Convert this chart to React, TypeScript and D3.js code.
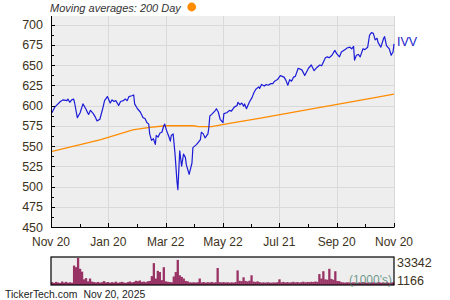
import React, { useEffect } from "react";
import * as d3 from "d3";

// ---- Data ----
const priceSeries: [string, number][] = [
  ["2024-11-21", 591], ["2024-11-24", 598], ["2024-11-30", 605], ["2024-12-03", 607],
  ["2024-12-07", 606], ["2024-12-08", 608], ["2024-12-10", 604], ["2024-12-12", 607],
  ["2024-12-14", 608], ["2024-12-15", 604], ["2024-12-18", 585], ["2024-12-21", 591],
  ["2024-12-24", 602], ["2024-12-27", 596], ["2024-12-29", 591], ["2024-12-30", 589],
  ["2025-01-01", 594], ["2025-01-04", 590], ["2025-01-06", 586], ["2025-01-08", 581],
  ["2025-01-11", 583], ["2025-01-14", 596], ["2025-01-16", 606], ["2025-01-19", 611],
  ["2025-01-22", 603], ["2025-01-24", 607], ["2025-01-26", 605], ["2025-01-28", 606],
  ["2025-01-31", 600], ["2025-02-02", 605], ["2025-02-05", 606], ["2025-02-07", 608],
  ["2025-02-09", 606], ["2025-02-11", 611], ["2025-02-14", 612], ["2025-02-16", 613],
  ["2025-02-17", 602], ["2025-02-20", 596], ["2025-02-23", 592], ["2025-02-26", 585],
  ["2025-02-28", 584], ["2025-03-02", 579], ["2025-03-04", 577], ["2025-03-05", 565],
  ["2025-03-07", 557], ["2025-03-09", 559], ["2025-03-11", 552], ["2025-03-12", 563],
  ["2025-03-14", 561], ["2025-03-16", 566], ["2025-03-18", 567], ["2025-03-20", 575],
  ["2025-03-21", 577], ["2025-03-23", 569], ["2025-03-25", 563], ["2025-03-27", 556],
  ["2025-03-28", 563], ["2025-03-30", 565], ["2025-04-01", 540], ["2025-04-03", 507],
  ["2025-04-04", 496], ["2025-04-06", 544], ["2025-04-08", 525], ["2025-04-10", 540],
  ["2025-04-12", 536], ["2025-04-13", 527], ["2025-04-16", 515], ["2025-04-19", 529],
  ["2025-04-20", 548], ["2025-04-24", 552], ["2025-04-28", 558], ["2025-04-29", 567],
  ["2025-05-01", 565], ["2025-05-03", 560], ["2025-05-06", 565], ["2025-05-07", 573],
  ["2025-05-08", 587], ["2025-05-10", 589], ["2025-05-14", 594], ["2025-05-15", 596],
  ["2025-05-17", 592], ["2025-05-19", 583], ["2025-05-22", 579], ["2025-05-23", 590],
  ["2025-05-26", 591], ["2025-05-29", 594], ["2025-05-31", 593], ["2025-06-03", 598],
  ["2025-06-06", 600], ["2025-06-07", 604], ["2025-06-09", 601], ["2025-06-11", 603],
  ["2025-06-13", 599], ["2025-06-14", 602], ["2025-06-16", 596], ["2025-06-19", 604],
  ["2025-06-22", 610], ["2025-06-24", 616], ["2025-06-26", 620], ["2025-06-29", 623],
  ["2025-06-30", 621], ["2025-07-02", 626], ["2025-07-05", 624], ["2025-07-07", 626],
  ["2025-07-09", 625], ["2025-07-12", 627], ["2025-07-14", 627], ["2025-07-16", 630],
  ["2025-07-19", 632], ["2025-07-22", 637], ["2025-07-24", 636], ["2025-07-26", 635],
  ["2025-07-28", 631], ["2025-07-30", 625], ["2025-08-01", 632], ["2025-08-03", 630],
  ["2025-08-05", 635], ["2025-08-07", 636], ["2025-08-10", 646], ["2025-08-14", 644],
  ["2025-08-17", 637], ["2025-08-21", 646], ["2025-08-24", 650], ["2025-08-27", 643],
  ["2025-08-30", 647], ["2025-09-02", 650], ["2025-09-04", 649], ["2025-09-08", 659],
  ["2025-09-10", 660], ["2025-09-12", 659], ["2025-09-15", 662], ["2025-09-18", 668],
  ["2025-09-20", 664], ["2025-09-23", 660], ["2025-09-25", 666], ["2025-09-29", 669],
  ["2025-10-01", 671], ["2025-10-04", 672], ["2025-10-06", 670], ["2025-10-08", 673],
  ["2025-10-09", 656], ["2025-10-11", 662], ["2025-10-13", 663], ["2025-10-15", 660],
  ["2025-10-18", 670], ["2025-10-20", 669], ["2025-10-23", 672], ["2025-10-25", 687],
  ["2025-10-27", 690], ["2025-10-29", 689], ["2025-10-31", 681], ["2025-11-02", 683],
  ["2025-11-03", 678], ["2025-11-06", 672], ["2025-11-09", 683], ["2025-11-10", 685],
  ["2025-11-12", 674], ["2025-11-15", 670], ["2025-11-17", 662], ["2025-11-19", 666],
  ["2025-11-20", 676],
];

const ma200Series: [string, number][] = [
  ["2024-11-20", 543], ["2024-12-20", 551.5], ["2025-01-12", 558], ["2025-02-15", 570],
  ["2025-03-05", 573], ["2025-03-22", 575], ["2025-04-20", 575], ["2025-04-26", 574],
  ["2025-05-10", 574], ["2025-05-20", 576], ["2025-06-01", 578.5], ["2025-07-01", 584.5],
  ["2025-08-01", 591], ["2025-09-01", 597.5], ["2025-10-01", 603.5], ["2025-11-01", 610],
  ["2025-11-20", 614],
];

// volume in thousands, evenly spaced across the year
const volumes: number[] = [
  3400, 2600, 3800, 3100, 2500, 4300, 3000, 3900, 2800, 3300,
  2800, 24000, 22000, 33342, 20000, 16500, 7000, 8500, 4500, 8000,
  4200, 3600, 3100, 3800, 2900, 3400, 4800, 3200, 3700, 2800,
  3500, 3000, 4100, 2700, 3300, 3900, 3100, 2600, 3600, 4300,
  3200, 3700, 5200, 4700, 5600, 3800, 4200, 3400, 4600, 5000,
  11000, 27000, 8000, 17500, 16000, 6000, 22000, 4500, 4000, 3600,
  3400, 10500, 16000, 31000, 12000, 10000, 8000, 5000, 4500, 3300,
  3100, 3400, 3000, 3500, 8000, 3200, 3700, 2900, 3500, 3100,
  3800, 3000, 3400, 21000, 3500, 3200, 3600, 3100, 3400, 2900,
  3300, 3000, 3600, 18000, 5200, 4800, 9500, 5000, 4400, 5300,
  12000, 4200, 3800, 4500, 3600, 3000, 3300, 2900, 3400, 3100,
  2800, 3200, 3000, 3500, 7000, 3300, 3800, 3100, 3600, 3000,
  3400, 3900, 3200, 3700, 3000, 3500, 4100, 3300, 3800, 3600,
  4000, 3700, 4300, 3900, 13500, 8000, 17000, 7000, 6500, 20000,
  7500, 6500, 17000, 5000, 4800, 3500, 3200, 2900, 3400, 3100,
  2800, 3300, 3000, 2700, 3200, 2900, 3500, 3000, 2800, 3100,
  2900, 3300, 2700, 3000, 3400, 2800, 3100, 2900, 3200, 2700, 3000, 3300,
];
const volumeMax = 33342;
const volumeMin = 1166;

const xTickDates = ["2024-11-20", "2025-01-20", "2025-03-22", "2025-05-22", "2025-07-21", "2025-09-20", "2025-11-20"];
const xTickLabels = ["Nov 20", "Jan 20", "Mar 22", "May 22", "Jul 21", "Sep 20", "Nov 20"];
const yTicks = [450, 475, 500, 525, 550, 575, 600, 625, 650, 675, 700];
const tickerName = "IVV";
const titleText = "Moving averages: 200 Day";
const footerSite = "TickerTech.com";
const footerDate = "Nov 20, 2025";

// ---- Layout ----
const W = 450;
const H = 300;
const L = 51, R = 394, T = 16, B = 227;
const VT = 257, VB = 285;
const FONT = "'Liberation Sans', Arial, Helvetica, sans-serif";
const LABEL = "#3d3220";
const GRID = "#d9d9d9";
const BG = "#eeeeee";

const parse = d3.utcParse("%Y-%m-%d");

export default function App() {
  useEffect(() => {
    document.body.style.margin = "0";
  }, []);

  const x = d3.scaleUtc().domain([parse("2024-11-20")!, parse("2025-11-20")!]).range([L, R]);
  const y = d3.scaleLinear().domain([450, 710.5]).range([B, T]);

  const majorX = xTickDates.map((d) => parse(d)!);
  const minorX = majorX.slice(0, -1).map((d, i) => new Date((d.getTime() + majorX[i + 1].getTime()) / 2));
  const minorY = yTicks.slice(0, -1).map((v) => v + 12.5);

  const line = d3
    .line<[string, number]>()
    .x((d) => x(parse(d[0])!))
    .y((d) => y(d[1]));

  const vx = d3.scaleBand<number>().domain(volumes.map((_, i) => i)).range([L, R]).padding(0);
  const vy = d3.scaleLinear().domain([0, volumeMax]).range([VB, VT + 1]);

  return (
    <svg width={W} height={H} style={{ position: "absolute", left: 0, top: 0, display: "block" }} fontFamily={FONT}>
      <rect x={0} y={0} width={W} height={H} fill="#ffffff" />
      {/* title */}
      <text x={50} y={11.5} fontSize={11} fontStyle="italic" fill="#333">{titleText}</text>
      <circle cx={191.7} cy={7} r={4.4} fill="#ff8c00" />

      {/* main plot background */}
      <rect x={L} y={T} width={R - L} height={B - T} fill={BG} />
      {yTicks.slice(1).map((v) => (
        <line key={"gy" + v} x1={L} x2={R} y1={Math.round(y(v)) + 0.5} y2={Math.round(y(v)) + 0.5} stroke={GRID} strokeWidth={1} />
      ))}
      {majorX.slice(1).map((d, i) => (
        <line key={"gx" + i} x1={Math.round(x(d)) + 0.5} x2={Math.round(x(d)) + 0.5} y1={T} y2={B} stroke={GRID} strokeWidth={1} />
      ))}

      <defs>
        <clipPath id="plotclip">
          <rect x={L} y={T} width={R - L + 2} height={B - T} />
        </clipPath>
      </defs>
      <g clipPath="url(#plotclip)">
        <path d={line(ma200Series) || ""} fill="none" stroke="#ff8c00" strokeWidth={1.3} />
        <path d={line(priceSeries) || ""} fill="none" stroke="#1c1cd8" strokeWidth={1.2} strokeLinejoin="round" />
      </g>

      {/* axes */}
      <line x1={L + 0.5} x2={L + 0.5} y1={T} y2={B + 0.5} stroke="#000" strokeWidth={1} />
      <line x1={L} x2={R + 0.5} y1={B + 0.5} y2={B + 0.5} stroke="#000" strokeWidth={1} />
      {yTicks.map((v) => (
        <line key={"ty" + v} x1={L} x2={L + 4} y1={Math.round(y(v)) + 0.5} y2={Math.round(y(v)) + 0.5} stroke="#000" />
      ))}
      {minorY.map((v) => (
        <line key={"my" + v} x1={L} x2={L + 3} y1={Math.round(y(v)) + 0.5} y2={Math.round(y(v)) + 0.5} stroke="#000" />
      ))}
      {majorX.map((d, i) => (
        <line key={"tx" + i} x1={Math.round(x(d)) + 0.5} x2={Math.round(x(d)) + 0.5} y1={B - 4} y2={B} stroke="#000" />
      ))}
      {minorX.map((d, i) => (
        <line key={"mx" + i} x1={Math.round(x(d)) + 0.5} x2={Math.round(x(d)) + 0.5} y1={B - 3} y2={B} stroke="#000" />
      ))}
      {yTicks.map((v) => (
        <text key={"ly" + v} x={43} y={y(v)} dy="0.36em" textAnchor="end" fontSize={12.5} fill={LABEL}>{v}</text>
      ))}
      {majorX.map((d, i) => (
        <text key={"lx" + i} x={x(d)} y={246} textAnchor="middle" fontSize={12} fill={LABEL}>{xTickLabels[i]}</text>
      ))}

      {/* ticker label */}
      <text x={397} y={45.5} fontSize={12.5} fill="#2222cc">{tickerName}</text>

      {/* volume panel */}
      <rect x={L} y={VT} width={R - L} height={VB - VT} fill={BG} />
      {volumes.map((v, i) => (
        <rect key={"v" + i} x={vx(i)!} y={vy(v)} width={vx.bandwidth() + 0.3} height={VB - vy(v)} fill="#993366" />
      ))}
      <rect x={L} y={VT} width={R - L} height={VB - VT} fill="none" stroke="#000" strokeWidth={1.2} />
      <text x={392} y={284} textAnchor="end" fontSize={12} fill="#3f7a66" fillOpacity={0.75}>(1000's)</text>
      <text x={397} y={267} fontSize={12.5} fill={LABEL}>{volumeMax}</text>
      <text x={397} y={284.5} fontSize={12.5} fill={LABEL}>{volumeMin}</text>

      {/* footer */}
      <text x={5} y={298} fontSize={10.4} fill="#222">
        <tspan>{footerSite}</tspan>
        <tspan dx={6}>{footerDate}</tspan>
      </text>
    </svg>
  );
}
